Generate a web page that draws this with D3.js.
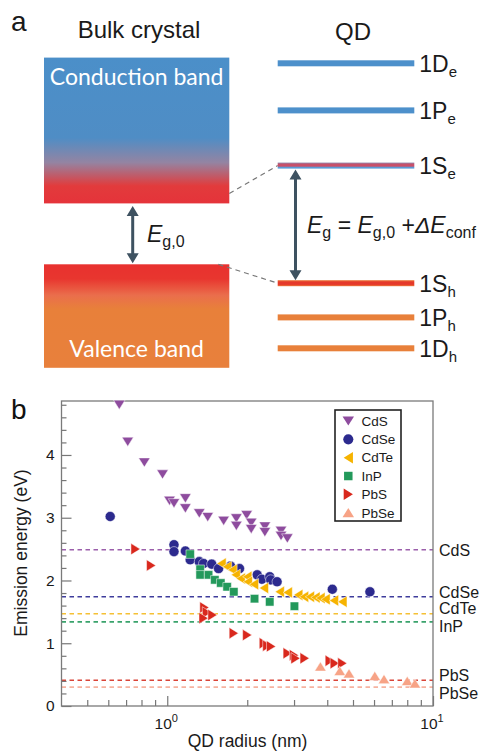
<!DOCTYPE html>
<html>
<head>
<meta charset="utf-8">
<script src="https://cdn.jsdelivr.net/npm/d3@7"></script>
<style>
  body { margin: 0; background: #fff; }
  svg { display: block; }
</style>
</head>
<body>
<div id="chart"></div>
<script>
////////////////////////////////////////////////////////////////////
////////////////////////////  Data  ////////////////////////////////
// panel a : schematic energies (arbitrary units, valence band top = 0)
const bandNames = ["Conduction band", "Valence band"];
const bandBottom = [2.03, -3.45];
const bandTop = [6.89, 0];
const levelNames = ["1D", "1P", "1S", "1S", "1P", "1D"];
const levelSubs = ["e", "e", "e", "h", "h", "h"];
const levelEnergy = [6.7, 5.13, 3.29, -0.63, -1.77, -2.8];

// panel b : emission energy vs QD radius
const materials = ["CdS", "CdSe", "CdTe", "InP", "PbS", "PbSe"];
const bulkGap = [2.49, 1.74, 1.47, 1.34, 0.41, 0.3];

const cdsRadius = [0.66, 0.71, 0.82, 0.96, 1.02, 1.06, 1.17, 1.17, 1.32, 1.42, 1.63, 1.82, 1.82, 1.99, 2.07, 2.07, 2.33, 2.33, 2.68, 2.68, 2.83];
const cdsEnergy = [4.8, 4.21, 3.88, 3.69, 3.27, 3.23, 3.31, 3.15, 3.07, 3.01, 2.95, 2.99, 2.87, 3.04, 2.92, 2.82, 2.86, 2.77, 2.79, 2.71, 2.67];

const cdseRadius = [0.61, 1.06, 1.06, 1.17, 1.22, 1.32, 1.37, 1.47, 1.56, 1.73, 1.87, 2.18, 2.27, 2.43, 2.45, 2.59, 4.18, 5.79];
const cdseEnergy = [3.02, 2.57, 2.46, 2.47, 2.33, 2.3, 2.27, 2.26, 2.19, 2.23, 2.19, 2.09, 2.02, 2.06, 2.01, 1.98, 1.86, 1.82];

const cdteRadius = [1.6, 1.68, 1.76, 1.81, 1.89, 2.0, 2.01, 2.12, 2.31, 2.65, 2.84, 3.11, 3.27, 3.44, 3.61, 3.77, 3.94, 4.24, 4.56];
const cdteEnergy = [2.27, 2.22, 2.17, 2.09, 2.03, 2.06, 1.98, 1.94, 1.88, 1.82, 1.81, 1.77, 1.74, 1.74, 1.73, 1.72, 1.7, 1.68, 1.66];

const inpRadius = [1.22, 1.33, 1.33, 1.43, 1.51, 1.59, 1.68, 1.78, 2.13, 2.43, 3.01];
const inpEnergy = [2.42, 2.18, 2.09, 2.09, 2.01, 1.96, 1.9, 1.82, 1.71, 1.66, 1.59];

const pbsRadius = [0.76, 0.87, 1.38, 1.41, 1.37, 1.48, 1.78, 2.0, 2.31, 2.38, 2.46, 2.84, 3.0, 3.04, 3.29, 4.09, 4.27, 4.56];
const pbsEnergy = [2.5, 2.24, 1.57, 1.49, 1.4, 1.45, 1.16, 1.13, 1.0, 0.96, 0.95, 0.84, 0.81, 0.76, 0.76, 0.72, 0.68, 0.68];

const pbseRadius = [3.77, 4.46, 4.83, 6.04, 6.54, 8.0, 8.55];
const pbseEnergy = [0.63, 0.56, 0.52, 0.48, 0.43, 0.4, 0.36];

const yTicks = [0, 1, 2, 3, 4];
const xTicks = [1, 10];

////////////////////////////////////////////////////////////////////
////////////////////////////  Init  ////////////////////////////////
const width = 487;
const height = 753;
const svg = d3.select("#chart").append("svg")
  .attr("width", width).attr("height", height)
  .attr("font-family", "'Liberation Sans', Arial, sans-serif");
const defs = svg.append("defs");

const series = [
  { r: cdsRadius, e: cdsEnergy },
  { r: cdseRadius, e: cdseEnergy },
  { r: cdteRadius, e: cdteEnergy },
  { r: inpRadius, e: inpEnergy },
  { r: pbsRadius, e: pbsEnergy },
  { r: pbseRadius, e: pbseEnergy },
].map((s, i) => ({
  name: materials[i],
  gap: bulkGap[i],
  points: s.r.map((r, j) => ({ r: r, e: s.e[j] })),
}));

const colors = ["#8e4c9e", "#2c2a8e", "#f6b300", "#23995b", "#d9281d", "#f7a386"];
const dashColors = ["#9b5fab", "#3e3c9c", "#f5c034", "#3aa36c", "#d94438", "#f6b3a0"];

// triangle centred on its bounding box
const tri = {
  draw(ctx, size) {
    const s = Math.sqrt(size);
    ctx.moveTo(0, -s * 0.45);
    ctx.lineTo(s * 0.56, s * 0.45);
    ctx.lineTo(-s * 0.56, s * 0.45);
    ctx.closePath();
  },
};
const markers = [
  { type: tri, size: 105, rot: 180 },
  { type: d3.symbolCircle, size: 80, rot: 0 },
  { type: tri, size: 105, rot: -90 },
  { type: d3.symbolSquare, size: 72, rot: 0 },
  { type: tri, size: 105, rot: 90 },
  { type: tri, size: 105, rot: 0 },
];

function subText(g, x, y, parts, anchor) {
  const t = g.append("text").attr("x", x).attr("y", y).attr("text-anchor", anchor || "start");
  parts.forEach((p) => {
    t.append("tspan")
      .attr("font-size", p.size)
      .attr("font-style", p.italic ? "italic" : null)
      .attr("dy", p.dy || 0)
      .text(p.t);
  });
  return t;
}

////////////////////////////////////////////////////////////////////
////////////////////////////  Panel a  /////////////////////////////
const gA = svg.append("g").attr("fill", "#1a1a1a");
const yA = d3.scaleLinear().domain([0, 1]).range([264.3, 234.3]);
const bulkX = [44, 229.3];
const qdX = [277.7, 414.3];
const arrowColor = "#3e5261";

gA.append("text").attr("x", 11).attr("y", 31).attr("font-size", 28).text("a");
gA.append("text").attr("x", 139).attr("y", 38).attr("font-size", 24).attr("text-anchor", "middle").text("Bulk crystal");
gA.append("text").attr("x", 353).attr("y", 40).attr("font-size", 24).attr("text-anchor", "middle").text("QD");

// gradients
const grads = [
  { id: "gCond", stops: [[0, "#4b8fc9"], [0.55, "#4f8dc5"], [0.72, "#9484a2"], [0.88, "#e23b3c"], [1, "#e5333a"]] },
  { id: "gVal", stops: [[0, "#e8312f"], [0.14, "#e8362f"], [0.3, "#ea6e4c"], [0.43, "#e8803a"], [1, "#e8803c"]] },
  { id: "g1Se", stops: [[0, "#9082a8"], [0.3, "#c8506a"], [0.62, "#c8506a"], [0.72, "#5b9bd6"], [1, "#5b9bd6"]] },
  { id: "g1Sh", stops: [[0, "#ec7a3a"], [0.3, "#e5392a"], [0.7, "#e5392a"], [1, "#ec7a3a"]] },
];
grads.forEach((g) => {
  const lg = defs.append("linearGradient").attr("id", g.id).attr("x1", 0).attr("x2", 0).attr("y1", 0).attr("y2", 1);
  lg.selectAll("stop").data(g.stops).enter().append("stop")
    .attr("offset", (d) => d[0]).attr("stop-color", (d) => d[1]);
});

// bulk bands
gA.selectAll("rect.band")
  .data(bandNames)
  .enter()
  .append("rect")
  .attr("class", "band")
  .attr("x", bulkX[0])
  .attr("width", bulkX[1] - bulkX[0])
  .attr("y", (d, i) => yA(bandTop[i]))
  .attr("height", (d, i) => yA(bandBottom[i]) - yA(bandTop[i]))
  .attr("fill", (d, i) => (i === 0 ? "url(#gCond)" : "url(#gVal)"));

gA.selectAll("text.band")
  .data(bandNames)
  .enter()
  .append("text")
  .attr("class", "band")
  .attr("x", (bulkX[0] + bulkX[1]) / 2)
  .attr("y", (d, i) => (i === 0 ? yA(bandTop[i]) + 27 : yA(bandBottom[i]) - 11))
  .attr("text-anchor", "middle")
  .attr("font-family", "Lato, 'Open Sans', sans-serif")
  .attr("font-size", 23)
  .attr("fill", "#fff")
  .text((d) => d);

// dashed guides bulk -> QD
const guides = [
  [bulkX[1], yA(bandBottom[0]) - 10, qdX[0], yA(levelEnergy[2])],
  [bulkX[1] - 11, yA(bandTop[1]), qdX[0], yA(levelEnergy[3])],
];
gA.selectAll("line.guide")
  .data(guides)
  .enter()
  .append("line")
  .attr("x1", (d) => d[0]).attr("y1", (d) => d[1])
  .attr("x2", (d) => d[2]).attr("y2", (d) => d[3])
  .attr("stroke", "#777").attr("stroke-width", 1.2).attr("stroke-dasharray", "5,4");

// QD levels
const levelFill = (d, i) => {
  if (i === 2) return "url(#g1Se)";
  if (i === 3) return "url(#g1Sh)";
  return levelSubs[i] === "e" ? "#4d90cb" : "#e8803a";
};
gA.selectAll("rect.level")
  .data(levelEnergy)
  .enter()
  .append("rect")
  .attr("class", "level")
  .attr("x", qdX[0])
  .attr("width", qdX[1] - qdX[0])
  .attr("y", (d) => yA(d) - 3)
  .attr("height", 6)
  .attr("fill", levelFill);

levelEnergy.forEach((e, i) => {
  subText(gA, qdX[1] + 5, yA(e) + 8.5, [
    { t: levelNames[i], size: 23 },
    { t: levelSubs[i], size: 15, dy: 5 },
  ]);
});

// double arrows
function dblArrow(x, y1, y2) {
  const head = 10, hw = 6;
  gA.append("line")
    .attr("x1", x).attr("x2", x)
    .attr("y1", y1 + head - 1).attr("y2", y2 - head + 1)
    .attr("stroke", arrowColor).attr("stroke-width", 3);
  gA.append("path")
    .attr("d", `M${x},${y1} L${x + hw},${y1 + head} L${x - hw},${y1 + head} Z M${x},${y2} L${x + hw},${y2 - head} L${x - hw},${y2 - head} Z`)
    .attr("fill", arrowColor);
}
dblArrow(132.7, yA(bandBottom[0]) + 2.5, yA(bandTop[1]) - 1);
dblArrow(295.5, yA(levelEnergy[2]) + 4, yA(levelEnergy[3]) - 3);

subText(gA, 147, 241.5, [
  { t: "E", size: 23, italic: true },
  { t: "g,0", size: 16, dy: 5 },
]);
subText(gA, 307, 233, [
  { t: "E", size: 23, italic: true },
  { t: "g", size: 16, dy: 5 },
  { t: " = ", size: 23, dy: -5 },
  { t: "E", size: 23, italic: true },
  { t: "g,0", size: 16, dy: 5 },
  { t: " +", size: 23, dy: -5 },
  { t: "\u0394E", size: 23, italic: true },
  { t: "conf", size: 16, dy: 5 },
]);

////////////////////////////////////////////////////////////////////
////////////////////////////  Panel b  /////////////////////////////
const gB = svg.append("g");
const x = d3.scaleLog().domain([0.4, 10]).range([61.5, 433]);
const y = d3.scaleLinear().domain([0, 4.86]).range([706, 401]);

gB.append("text").attr("x", 11).attr("y", 419).attr("font-size", 28).attr("fill", "#111").text("b");

// bulk band gap dashed lines
gB.selectAll("line.gap")
  .data(series)
  .enter()
  .append("line")
  .attr("class", "gap")
  .attr("x1", x.range()[0])
  .attr("x2", x.range()[1])
  .attr("y1", (d) => y(d.gap))
  .attr("y2", (d) => y(d.gap))
  .attr("stroke", (d, i) => dashColors[i])
  .attr("stroke-width", 1.6)
  .attr("stroke-dasharray", "4.5,3.5");

const labelNudge = [0, -5, -6, 4, -5, 6];
gB.selectAll("text.gap")
  .data(series)
  .enter()
  .append("text")
  .attr("class", "gap")
  .attr("x", x.range()[1] + 6)
  .attr("y", (d, i) => y(d.gap) + labelNudge[i] + 6)
  .attr("font-size", 16)
  .attr("fill", "#1a1a1a")
  .text((d) => d.name);

// axes
const axisY = gB.append("g").attr("transform", `translate(${x.range()[0]},0)`)
  .call(d3.axisLeft(y).tickValues(yTicks).tickSize(-10).tickPadding(7).tickFormat(d3.format("d")));
const axisYMinor = gB.append("g").attr("transform", `translate(${x.range()[0]},0)`)
  .call(d3.axisLeft(y).tickValues(d3.range(0.2, 4.85, 0.2).filter((v) => Math.abs(v - Math.round(v)) > 0.01)).tickSize(-5).tickFormat(""));
const minorX = [0.5, 0.6, 0.7, 0.8, 0.9, 2, 3, 4, 5, 6, 7, 8, 9];
const axisX = gB.append("g").attr("transform", `translate(0,${y.range()[0]})`)
  .call(d3.axisBottom(x).tickValues(xTicks).tickSize(-10).tickPadding(11).tickFormat(""));
const axisXMinor = gB.append("g").attr("transform", `translate(0,${y.range()[0]})`)
  .call(d3.axisBottom(x).tickValues(minorX).tickSize(-6).tickFormat(""));

[axisY, axisYMinor, axisX, axisXMinor].forEach((a) => {
  a.attr("font-family", null).attr("font-size", null);
  a.select(".domain").remove();
  a.selectAll("line").attr("stroke", "#777").attr("stroke-width", 1.2);
  a.selectAll("text").attr("font-size", 15.5).attr("fill", "#1a1a1a");
});

// 10^n labels
xTicks.forEach((v) => {
  const t = gB.append("text")
    .attr("x", x(v) - 1)
    .attr("y", 728.5)
    .attr("text-anchor", "middle")
    .attr("fill", "#1a1a1a");
  t.append("tspan").attr("font-size", 15.5).text("10");
  t.append("tspan").attr("font-size", 11).attr("dy", -7).text(Math.round(Math.log10(v)));
});

// frame
gB.append("rect")
  .attr("x", x.range()[0])
  .attr("y", y.range()[1])
  .attr("width", x.range()[1] - x.range()[0])
  .attr("height", y.range()[0] - y.range()[1])
  .attr("fill", "none")
  .attr("stroke", "#7a7a7a")
  .attr("stroke-width", 1.3);

// axis titles
gB.append("text")
  .attr("transform", `translate(27,553) rotate(-90)`)
  .attr("text-anchor", "middle")
  .attr("font-size", 17.5)
  .attr("fill", "#1a1a1a")
  .text("Emission energy (eV)");
gB.append("text")
  .attr("x", 247.5)
  .attr("y", 747)
  .attr("text-anchor", "middle")
  .attr("font-size", 17.5)
  .attr("fill", "#1a1a1a")
  .text("QD radius (nm)");

// points
const sym = (i) => d3.symbol().type(markers[i].type).size(markers[i].size);
series.forEach((s, i) => {
  gB.append("g")
    .selectAll("path")
    .data(s.points)
    .enter()
    .append("path")
    .attr("transform", (d) => `translate(${x(d.r)},${y(d.e)}) rotate(${markers[i].rot})`)
    .attr("d", sym(i)())
    .attr("fill", colors[i])
    .attr("stroke", "#fff")
    .attr("stroke-width", 0.5);
});

// legend
const legend = gB.append("g");
legend.append("rect")
  .attr("x", 335).attr("y", 410).attr("width", 66).attr("height", 111)
  .attr("fill", "#fff").attr("stroke", "#222").attr("stroke-width", 1.6);
const legendY = d3.scalePoint().domain(materials).range([421, 512.7]);
legend.selectAll("path")
  .data(materials)
  .enter()
  .append("path")
  .attr("transform", (d, i) => `translate(348.3,${legendY(d)}) rotate(${markers[i].rot})`)
  .attr("d", (d, i) => sym(i)())
  .attr("fill", (d, i) => colors[i]);
legend.selectAll("text")
  .data(materials)
  .enter()
  .append("text")
  .attr("x", 361.5)
  .attr("y", (d) => legendY(d) + 4.8)
  .attr("font-size", 13.5)
  .attr("fill", "#1a1a1a")
  .text((d) => d);
</script>
</body>
</html>
